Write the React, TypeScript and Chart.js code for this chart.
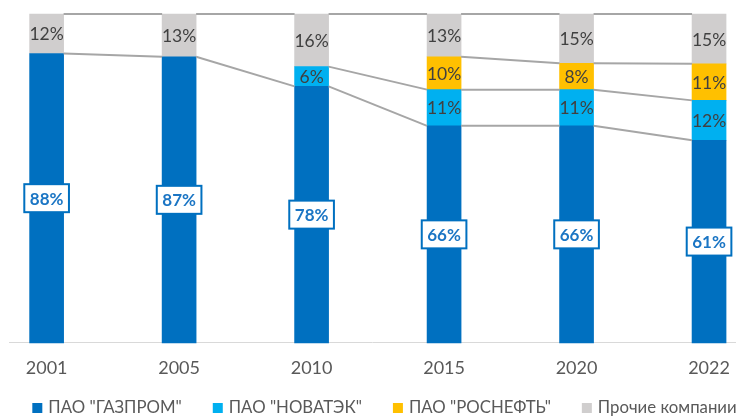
import React, { useEffect, useRef } from 'react';
import { Chart, registerables } from 'chart.js';

Chart.register(...registerables);

const years = ['2001', '2005', '2010', '2015', '2020', '2022'];
const gazprom: (number | null)[] = [88, 87, 78, 66, 66, 61];
const novatek: (number | null)[] = [null, null, 6, 11, 11, 12];
const rosneft: (number | null)[] = [null, null, null, 10, 8, 11];
const others: (number | null)[] = [12, 13, 16, 13, 15, 15];
const seriesNames = ['ПАО "ГАЗПРОМ"', 'ПАО "НОВАТЭК"', 'ПАО "РОСНЕФТЬ"', 'Прочие компании'];
const seriesColors = ['#0070C0', '#00B0F0', '#FFC000', '#D0CECE'];

const rawSeries = [gazprom, novatek, rosneft, others];
const totals = years.map((_, i) => rawSeries.reduce((s, arr) => s + (arr[i] ?? 0), 0));

const FONT = 'Lato, "Open Sans", "Noto Sans", sans-serif';

const seriesLinesPlugin = {
  id: 'seriesLines',
  afterDatasetsDraw(chart: any) {
    const ctx = chart.ctx;
    ctx.save();
    ctx.strokeStyle = '#A6A6A6';
    ctx.lineWidth = 2;
    rawSeries.forEach((arr, d) => {
      const meta = chart.getDatasetMeta(d);
      for (let i = 0; i < years.length - 1; i++) {
        if (arr[i] == null || arr[i + 1] == null) continue;
        const a = meta.data[i];
        const b = meta.data[i + 1];
        if (!a || !b) continue;
        ctx.beginPath();
        ctx.moveTo(a.x + a.width / 2, a.y);
        ctx.lineTo(b.x - b.width / 2, b.y);
        ctx.stroke();
      }
    });
    ctx.restore();
  },
};

const labelsPlugin = {
  id: 'segmentLabels',
  afterDatasetsDraw(chart: any) {
    const ctx = chart.ctx;
    ctx.save();
    ctx.textAlign = 'center';
    ctx.textBaseline = 'middle';
    rawSeries.forEach((arr, d) => {
      const meta = chart.getDatasetMeta(d);
      arr.forEach((v, i) => {
        if (v == null) return;
        const el = meta.data[i];
        if (!el) return;
        const cx = el.x;
        const cy = (el.y + el.base) / 2;
        const text = `${v}%`;
        if (d === 0) {
          ctx.font = `bold 17px ${FONT}`;
          const tw = ctx.measureText(text).width;
          const w = tw + 11;
          const h = 28;
          ctx.fillStyle = '#FFFFFF';
          ctx.fillRect(cx - w / 2, cy - h / 2, w, h);
          ctx.strokeStyle = '#0070C0';
          ctx.lineWidth = 2;
          ctx.strokeRect(cx - w / 2, cy - h / 2, w, h);
          ctx.fillStyle = '#1A75C4';
          ctx.fillText(text, cx, cy + 1);
        } else {
          ctx.font = `17.5px ${FONT}`;
          ctx.fillStyle = '#404040';
          ctx.fillText(text, cx, cy + 1);
        }
      });
    });
    ctx.restore();
  },
};

const legendPlugin = {
  id: 'bottomLegend',
  afterDraw(chart: any) {
    const ctx = chart.ctx;
    ctx.save();
    ctx.font = `16.8px ${FONT}`;
    ctx.textBaseline = 'middle';
    ctx.textAlign = 'left';
    const box = 10;
    const gapText = 6;
    const gapItem = 31;
    const widths = seriesNames.map((n) => ctx.measureText(n).width);
    const total = widths.reduce((s, w) => s + box + gapText + w, 0) + gapItem * (seriesNames.length - 1);
    let x = 384.5 - total / 2;
    const y = 408;
    seriesNames.forEach((n, i) => {
      ctx.fillStyle = seriesColors[i];
      ctx.fillRect(x, y - box / 2, box, box);
      x += box + gapText;
      ctx.fillStyle = '#595959';
      ctx.fillText(n, x, y);
      x += widths[i] + gapItem;
    });
    ctx.restore();
  },
};

export default function App() {
  const ref = useRef<HTMLCanvasElement | null>(null);

  useEffect(() => {
    document.body.style.margin = '0';
    const canvas = ref.current;
    if (!canvas) return;
    const chart = new Chart(canvas, {
      type: 'bar',
      data: {
        datasets: rawSeries.map((arr, d) => ({
          label: seriesNames[d],
          data: arr.map((v, i) => ({ x: i, y: v == null ? null : (v / totals[i]) * 100 })),
          backgroundColor: seriesColors[d],
          borderWidth: 0,
          barThickness: 34,
          clip: false as any,
        })),
      },
      options: {
        animation: false,
        responsive: false,
        devicePixelRatio: 1,
        layout: { padding: { top: 14, left: 9, right: 2, bottom: 23.5 } },
        scales: {
          x: {
            type: 'linear',
            stacked: true,
            offset: false,
            min: -0.284,
            max: 5.202,
            grid: { display: false, drawTicks: false },
            border: { display: true, color: '#D9D9D9', width: 1 },
            ticks: {
              padding: 14,
              color: '#595959',
              font: { family: FONT, size: 18 },
              maxRotation: 0,
              autoSkip: false,
              callback: (v: any) => years[v] ?? '',
            },
            afterBuildTicks: (s: any) => {
              s.ticks = years.map((_, i) => ({ value: i }));
            },
          },
          y: { stacked: true, min: 0, max: 100, display: false },
        },
        plugins: {
          legend: { display: false },
          tooltip: { enabled: false },
        },
      },
      plugins: [seriesLinesPlugin, labelsPlugin, legendPlugin],
    } as any);
    return () => chart.destroy();
  }, []);

  return (
    <div style={{ width: 744, height: 416 }}>
      <canvas ref={ref} width={744} height={416} style={{ display: 'block' }} />
    </div>
  );
}
